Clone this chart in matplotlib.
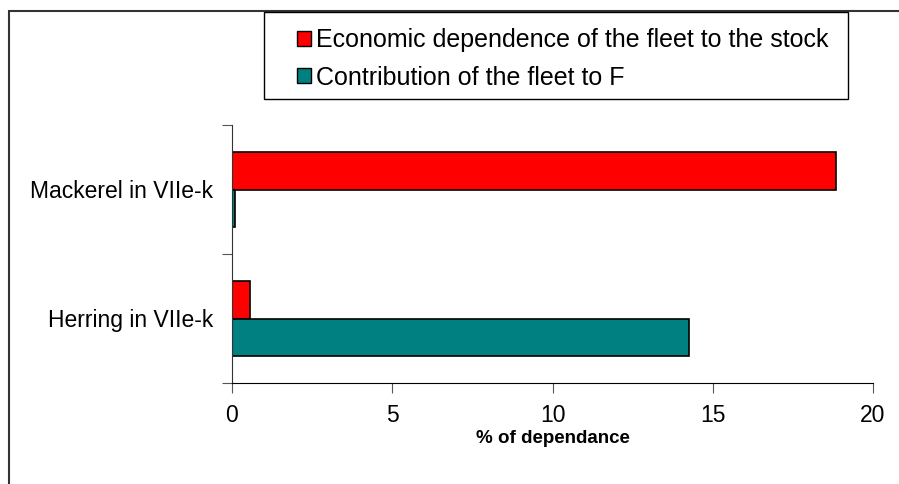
import matplotlib
matplotlib.use("Agg")
import matplotlib.pyplot as plt
from matplotlib.patches import Rectangle, Patch

plt.rcParams['font.family'] = ['Liberation Sans', 'DejaVu Sans']

stocks = ["Herring in VIIe-k", "Mackerel in VIIe-k"]
economic_dependence = [0.55, 18.85]
contribution_to_F = [14.25, 0.1]
series_names = ["Economic dependence of the fleet to the stock",
                "Contribution of the fleet to F"]
xticks = [0, 5, 10, 15, 20]

W, H = 899, 484
fig = plt.figure(figsize=(W / 100, H / 100), dpi=100)
ax = fig.add_axes([232 / W, 1 - 383 / H, (873 - 232) / W, (383 - 125) / H])

h = 0.287
ypos = list(range(len(stocks)))
ax.barh([y + h / 2 for y in ypos], economic_dependence, height=h,
        color="#ff0000", edgecolor="black", linewidth=1.2)
ax.barh([y - h / 2 for y in ypos], contribution_to_F, height=h,
        color="#008080", edgecolor="black", linewidth=1.2)

ax.set_xlim(0, 20)
ax.set_ylim(-0.5, len(stocks) - 0.5)
ax.set_xticks(xticks)
ax.set_xticklabels([str(v) for v in xticks], fontsize=16.5)
ax.set_yticks([y - 0.5 for y in range(len(stocks) + 1)])
ax.set_yticklabels([])
ax.set_yticks(ypos, minor=True)
ax.set_yticklabels(stocks, minor=True, fontsize=16.5)
ax.tick_params(axis="y", which="minor", length=0, pad=13.5)
ax.tick_params(axis="y", which="major", length=7, color="#555555", direction="out")
ax.tick_params(axis="x", length=7, color="#555555", direction="out", pad=8)
ax.set_xlabel("% of dependance", fontsize=13.5, fontweight="bold", labelpad=2)

for s in ["top", "right"]:
    ax.spines[s].set_visible(False)
ax.spines["left"].set_color("#333333")
ax.spines["bottom"].set_color("#000000")

# outer chart frame
fig.patches.append(Rectangle((9 / W, -0.1), 1.2, 1 - 11 / H + 0.1,
                             transform=fig.transFigure, fill=False,
                             edgecolor="#333333", linewidth=1.5))
# legend frame
fig.patches.append(Rectangle((264 / W, 1 - 99 / H), (848 - 264) / W, 87 / H,
                             transform=fig.transFigure, facecolor="white",
                             edgecolor="black", linewidth=1.0))

handles = [Patch(facecolor="#ff0000", edgecolor="black"),
           Patch(facecolor="#008080", edgecolor="black")]
leg = fig.legend(handles, series_names, loc="upper left",
                 bbox_to_anchor=(297 / W, 1 - 28 / H), fontsize=18,
                 frameon=False, handlelength=0.55, handleheight=0.55,
                 handletextpad=0.2, labelspacing=0.55, borderpad=0,
                 borderaxespad=0)

fig.savefig("out.png", dpi=100)
